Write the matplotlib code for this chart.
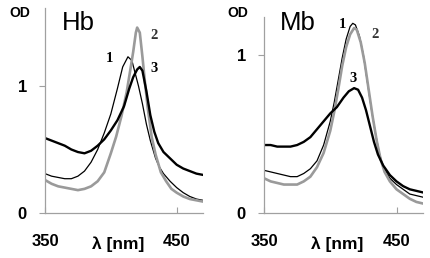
import matplotlib
matplotlib.use("Agg")
import matplotlib.pyplot as plt

# Hb spectra (wavelength nm, optical density)
hb1_x = [350, 355, 360, 365, 370, 375, 380, 385, 390, 395, 400, 405, 409, 413, 416, 419, 421,
         424, 427, 430, 434, 437, 440, 445, 450, 455, 460, 465, 470]
hb1_y = [0.31, 0.29, 0.28, 0.27, 0.27, 0.29, 0.33, 0.40, 0.50, 0.63, 0.78, 0.98, 1.15, 1.23, 1.20,
         1.08, 1.00, 0.86, 0.70, 0.57, 0.43, 0.36, 0.31, 0.25, 0.20, 0.16, 0.13, 0.11, 0.10]
hb2_x = [350, 355, 360, 365, 370, 375, 380, 385, 390, 395, 400, 404, 408, 412, 415, 417, 419, 420,
         422, 424, 426, 428, 431, 434, 438, 442, 446, 450, 455, 460, 465, 470]
hb2_y = [0.26, 0.23, 0.21, 0.20, 0.19, 0.18, 0.19, 0.21, 0.25, 0.32, 0.47, 0.60, 0.76, 0.95, 1.14,
         1.27, 1.42, 1.46, 1.42, 1.23, 1.02, 0.83, 0.60, 0.46, 0.32, 0.25, 0.19, 0.16, 0.13, 0.11,
         0.10, 0.09]
hb3_x = [350, 355, 360, 365, 370, 375, 380, 385, 390, 395, 400, 405, 410, 414, 417, 420, 422, 424,
         427, 430, 433, 436, 440, 445, 450, 455, 460, 465, 470]
hb3_y = [0.59, 0.57, 0.55, 0.53, 0.50, 0.48, 0.47, 0.49, 0.53, 0.58, 0.65, 0.73, 0.84, 0.98, 1.07,
         1.13, 1.15, 1.12, 0.96, 0.77, 0.64, 0.55, 0.48, 0.43, 0.38, 0.35, 0.33, 0.31, 0.30]

# Mb spectra
mb1_x = [350, 355, 360, 365, 370, 375, 380, 385, 390, 395, 400, 403, 406, 409, 412, 415, 417, 419,
         422, 425, 428, 431, 434, 437, 440, 445, 450, 455, 460, 465, 470]
mb1_y = [0.27, 0.26, 0.25, 0.24, 0.23, 0.23, 0.25, 0.28, 0.33, 0.43, 0.58, 0.70, 0.84, 0.98, 1.10,
         1.18, 1.20, 1.19, 1.12, 1.00, 0.83, 0.66, 0.51, 0.38, 0.29, 0.22, 0.18, 0.15, 0.12, 0.11, 0.10]
mb2_x = [350, 355, 360, 365, 370, 375, 380, 385, 390, 395, 400, 403, 406, 409, 412, 415, 418, 420,
         423, 426, 429, 432, 435, 438, 441, 445, 450, 455, 460, 465, 470]
mb2_y = [0.22, 0.20, 0.19, 0.18, 0.18, 0.18, 0.20, 0.23, 0.29, 0.38, 0.52, 0.64, 0.78, 0.93, 1.05,
         1.13, 1.17, 1.16, 1.08, 0.95, 0.78, 0.61, 0.46, 0.34, 0.26, 0.20, 0.15, 0.12, 0.09, 0.07, 0.06]
mb3_x = [350, 355, 360, 365, 370, 375, 380, 385, 390, 395, 400, 405, 410, 414, 418, 421, 424, 427,
         430, 433, 436, 440, 445, 450, 455, 460, 465, 470]
mb3_y = [0.43, 0.43, 0.42, 0.42, 0.42, 0.43, 0.45, 0.48, 0.53, 0.58, 0.63, 0.67, 0.73, 0.77, 0.79,
         0.78, 0.73, 0.65, 0.55, 0.45, 0.37, 0.30, 0.24, 0.20, 0.17, 0.15, 0.14, 0.13]

panels = [
    dict(name="Hb", rect=[45/430, 45/258, 158/430, 205/258], ytop=1.614,
         curves=[(hb1_x, hb1_y), (hb2_x, hb2_y), (hb3_x, hb3_y)],
         labels=[(399, 1.22), (433, 1.40), (432.6, 1.14)],
         od_x=20, name_x=62, lam_x=118),
    dict(name="Mb", rect=[264/430, 45/258, 159/430, 196/258], ytop=1.24,
         curves=[(mb1_x, mb1_y), (mb2_x, mb2_y), (mb3_x, mb3_y)],
         labels=[(409, 1.19), (434, 1.13), (417, 0.85)],
         od_x=238, name_x=280, lam_x=337),
]

sans = ["Liberation Sans", "DejaVu Sans"]
serif = ["Liberation Serif", "DejaVu Serif"]
styles = [dict(color="black", lw=0.9), dict(color="#9a9a9a", lw=1.9), dict(color="black", lw=1.7)]
axis_col = "#a0a0a0"

fig = plt.figure(figsize=(4.3, 2.58), dpi=100)
for p in panels:
    ax = fig.add_axes(p["rect"])
    for (x, y), st in zip(p["curves"], styles):
        ax.plot(x, y, solid_joinstyle="round", **st)
    for i, (lx, ly) in enumerate(p["labels"]):
        ax.text(lx, ly, str(i + 1), family=serif, fontweight="bold", fontsize=10.5,
                color="#333333" if i == 1 else "black", ha="center", va="center")
    ax.set_xlim(350, 470)
    ax.set_ylim(0, p["ytop"])
    for s in ["top", "right"]:
        ax.spines[s].set_visible(False)
    for s in ["left", "bottom"]:
        ax.spines[s].set_color(axis_col)
        ax.spines[s].set_linewidth(0.9)
    ax.set_xticks([350, 450])
    ax.set_yticks([0, 1])
    ax.tick_params(axis="x", direction="in", length=4, color=axis_col, pad=15)
    ax.tick_params(axis="y", direction="out", length=4, color=axis_col, pad=9)
    for lab in ax.get_xticklabels() + ax.get_yticklabels():
        lab.set_family(sans)
        lab.set_fontweight("bold")
        lab.set_fontsize(12)
    fig.text(p["od_x"]/430, 1 - 13/258, "OD", family=sans, fontweight="bold", fontsize=10,
             ha="center", va="center")
    fig.text(p["name_x"]/430, 1 - 23/258, p["name"], family=sans, fontsize=18.5,
             ha="left", va="center")
    fig.text(p["lam_x"]/430, 1 - 244/258, "λ [nm]", family=sans, fontweight="bold",
             fontsize=12.5, ha="center", va="center")

fig.savefig("out.png", dpi=100, facecolor="white")
